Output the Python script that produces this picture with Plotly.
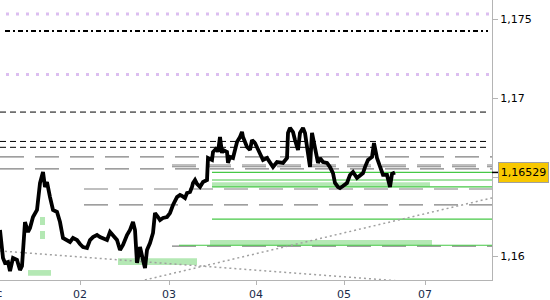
import plotly.graph_objects as go

# ---- data ----
bars = [0,3,5,8,10,13,17,20,22,25,28,30,33,37,40,43,45,47,50,53,
        57,60,63,67,70,73,77,80,83,87,90,93,97,100,103,107,110,113,117,120,
        123,127,130,133,135,137,140,143,145,147,150,153,155,158,160,163,167,170,173,177,
        180,182,185,187,190,192,193,195,197,200,203,207,208,212,213,217,218,220,222,223,
        227,228,230,233,237,240,242,243,247,250,252,255,258,260,263,267,270,273,277,280,
        283,287,288,290,293,295,298,300,303,305,308,310,312,315,318,320,323,327,330,333,
        335,338,340,343,347,350,353,357,360,363,365,368,372,374,377,380,383,387,388,390,
        392,395]
close = [
    1.16165,1.15987,1.15956,1.15962,1.15905,1.15987,1.15975,1.15911,1.15937,1.16215,
    1.16152,1.16177,1.16247,1.16291,1.16462,1.16532,1.16437,1.16468,1.16373,1.16291,
    1.16279,1.16215,1.16114,1.16101,1.16089,1.16114,1.16101,1.16076,1.16057,1.16051,
    1.16101,1.16120,1.16133,1.16120,1.16114,1.16101,1.16152,1.16133,1.16101,1.16038,
    1.16070,1.16133,1.16165,1.16215,1.16165,1.15956,1.16057,1.15975,1.15924,1.16038,
    1.16082,1.16146,1.16272,1.16247,1.16228,1.16241,1.16247,1.16272,1.16323,1.16373,
    1.16386,1.16380,1.16367,1.16399,1.16405,1.16437,1.16462,1.16481,1.16456,1.16437,
    1.16468,1.16481,1.16620,1.16608,1.16658,1.16684,1.16658,1.16753,1.16652,1.16671,
    1.16658,1.16589,1.16627,1.16620,1.16722,1.16753,1.16785,1.16753,1.16690,1.16671,
    1.16734,1.16715,1.16671,1.16639,1.16608,1.16620,1.16589,1.16563,1.16595,1.16589,
    1.16589,1.16620,1.16779,1.16810,1.16785,1.16734,1.16671,1.16779,1.16810,1.16779,
    1.16639,1.16563,1.16779,1.16671,1.16589,1.16620,1.16595,1.16589,1.16563,1.16525,
    1.16462,1.16437,1.16430,1.16443,1.16462,1.16513,1.16532,1.16494,1.16513,1.16525,
    1.16563,1.16608,1.16627,1.16715,1.16620,1.16557,1.16513,1.16513,1.16481,1.16437,
    1.16520,1.16529]
last_price = 1.16529

x_tick_bars = [80, 169, 256, 344, 425]
x_tick_text = ["02", "03", "04", "05", "07"]
y_tick_vals = [1.16, 1.165, 1.17, 1.175]
y_tick_text = ["1,16", "", "1,17", "1,175"]

lavender_levels = [1.17532, 1.17148]
dashdot_levels = [1.17424]
black_dash_levels = [1.16911, 1.16725, 1.16688]
gray_levels = [1.16627, 1.16576, 1.16565, 1.16551, 1.16424, 1.16323, 1.16063]
gray_starts = [0, 172, 172, 0, 84, 84, 172]
green_levels = [1.16529, 1.16481, 1.16437, 1.16234, 1.16068]
green_starts = [212, 212, 212, 212, 179]
band_top = [1.16467, 1.16101, 1.15985, 1.15911]
band_bot = [1.16438, 1.16068, 1.15943, 1.15875]
band_x0 = [212, 210, 118, 28]
band_x1 = [430, 432, 197, 51]
vert_bar = 42.5
vert_lo, vert_hi = 1.16108, 1.16247
trend_x = [[0, 420], [140, 492]]
trend_y = [[1.16032, 1.15832], [1.15841, 1.16368]]

X_END = 492
Y_MIN, Y_MAX = 1.158481, 1.176203

GREEN = "#46c846"
BAND = "#b4e8b4"
GRAY = "#808080"
LAV = "#dcbef0"

shapes = []
def hline(y, x0, x1, color, width, dash):
    shapes.append(dict(type="line", xref="x", yref="y", x0=x0, x1=x1, y0=y, y1=y,
                       line=dict(color=color, width=width, dash=dash), layer="below"))

for b0, b1, t, bt in zip(band_x0, band_x1, band_top, band_bot):
    shapes.append(dict(type="rect", xref="x", yref="y", x0=b0, x1=b1, y0=bt, y1=t,
                       fillcolor=BAND, line=dict(width=0), layer="below"))
for lv in lavender_levels:
    hline(lv, 6, X_END, LAV, 3, "3px,7px")
for lv in dashdot_levels:
    hline(lv, 5, 488, "black", 2, "5px,3px,2px,3px")
for lv in black_dash_levels:
    hline(lv, 0, 490, "black", 1, "6px,4px")
for lv, s in zip(gray_levels, gray_starts):
    hline(lv, s, X_END, GRAY, 1.2, "24px,11px")
for lv, s in zip(green_levels, green_starts):
    hline(lv, s, X_END, GREEN, 1.2, "solid")
for tx, ty in zip(trend_x, trend_y):
    shapes.append(dict(type="line", xref="x", yref="y", x0=tx[0], x1=tx[1], y0=ty[0], y1=ty[1],
                       line=dict(color="#a0a0a0", width=1.5, dash="2px,3px"), layer="below"))
shapes.append(dict(type="line", xref="x", yref="y", x0=vert_bar, x1=vert_bar, y0=vert_lo, y1=vert_hi,
                   line=dict(color=BAND, width=5, dash="8px,6px"), layer="below"))
# pointer from axis to price label
shapes.append(dict(type="line", xref="paper", yref="y", x0=1.0, x1=498 / 492, y0=last_price, y1=last_price,
                   line=dict(color="black", width=1.5)))

fig = go.Figure()
fig.add_trace(go.Scatter(x=bars, y=close, mode="lines",
                         line=dict(color="black", width=3.8), hoverinfo="skip", showlegend=False))

fig.update_layout(
    width=550, height=300,
    margin=dict(l=0, r=58, t=0, b=20),
    paper_bgcolor="white", plot_bgcolor="white",
    separators=", ",
    font=dict(family="DejaVu Sans", size=11, color="black"),
    shapes=shapes,
    showlegend=False,
    xaxis=dict(range=[0, X_END], showgrid=False, zeroline=False,
               showline=True, linecolor="#b4b4b4", linewidth=1,
               ticks="outside", ticklen=4, tickcolor="#b4b4b4",
               tickvals=x_tick_bars, ticktext=x_tick_text,
               tickfont=dict(color="#1a2a4a", size=11)),
    yaxis=dict(range=[Y_MIN, Y_MAX], side="right", showgrid=False, zeroline=False,
               showline=True, linecolor="#b4b4b4", linewidth=1,
               ticks="outside", ticklen=5, tickcolor="#b4b4b4",
               tickvals=y_tick_vals, ticktext=y_tick_text,
               tickfont=dict(color="black", size=11)),
    annotations=[
        dict(xref="paper", yref="y", x=498 / 492, y=last_price, xanchor="left", yanchor="middle",
             text="1,16529", showarrow=False, font=dict(size=11, color="black"),
             bgcolor="#f8c800", bordercolor="#a0a0a0", borderwidth=1, borderpad=1,
             width=47, height=17),
        dict(xref="paper", yref="paper", x=3.5 / 492, y=-13 / 280, xanchor="right", yanchor="middle",
             text="Dec", showarrow=False, font=dict(size=11, color="#1a2a4a")),
    ],
)

fig.write_html("out.html")
